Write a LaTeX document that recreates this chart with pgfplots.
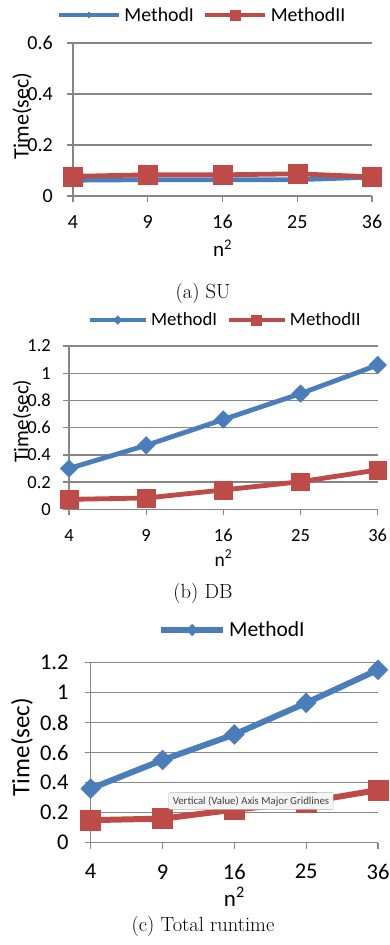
\documentclass[border=0pt]{standalone}
\usepackage{fontspec}
\usepackage{pgfplots}
\pgfplotsset{compat=1.18}
\newfontfamily\carlito{Carlito}
\newcommand{\fs}[1]{\fontsize{#1}{#1}\selectfont}
\definecolor{mblue}{RGB}{74,126,187}
\definecolor{mred}{RGB}{190,75,72}
\definecolor{gridgray}{RGB}{134,134,134}
\pgfplotsset{
  exc/.style={
    scale only axis,
    anchor=south west,
    clip=false,
    xmin=0, xmax=4,
    xtick={0,1,2,3,4},
    xticklabels={4,9,16,25,36},
    axis x line*=bottom, axis y line*=left,
    axis line style={gridgray, line width=1.3pt, -},
    every tick/.style={gridgray, line width=1.3pt},
    tick align=outside,
    major tick length=6pt,
    ymajorgrids,
    grid style={gridgray, line width=1.3pt},
    ymin=0,
    /pgf/number format/assume math mode=true,
    xticklabel style={anchor=center, inner sep=0pt},
    yticklabel style={anchor=east, inner sep=0pt},
    ylabel={Time(sec)},
    xlabel={n\textsuperscript{2}},
    legend style={draw=none, fill=none, legend columns=2, anchor=center,
      inner xsep=0pt, inner ysep=0pt,
      nodes={inner xsep=3pt, inner ysep=0pt},
      /tikz/every even column/.append style={column sep=6pt}},
  },
  lineI/.style={mblue, mark=square*, mark options={rotate=45, line width=0.5pt}},
  lineII/.style={mred, mark=square*, mark options={line width=0.5pt}},
  leg/.style n args={3}{legend image code/.code={\draw[mark repeat=2,mark phase=2,##1,mark size=#1] plot coordinates {(0pt,0pt) (#2,0pt) (#3,0pt)};}},
}
\begin{document}
\begin{tikzpicture}
\useasboundingbox (0,0) rectangle (390pt,945pt);
% (a) SU
\begin{axis}[exc,
  at={(73pt,749pt)}, width=299pt, height=153pt,
  ymax=0.6, ytick={0,0.2,0.4,0.6},
  ticklabel style={font=\carlito\fs{20}},
  yticklabel style={xshift=-14pt},
  xticklabel style={yshift=-20pt},
  ylabel style={at={(axis description cs:-0.17,0.523)}, anchor=center, font=\carlito\fs{22}},
  xlabel style={at={(axis description cs:0.5,-0.34)}, anchor=center, inner sep=0pt, font=\carlito\fs{21}},
  legend style={at={(axis description cs:0.433,1.183)}, font=\carlito\fs{19.8}},
]
\addplot[lineI, line width=4.8pt, mark size=2.2pt, leg={2.2pt}{30pt}{60pt}] coordinates {(0,0.062) (1,0.064) (2,0.064) (3,0.064) (4,0.074)};
\addplot[lineII, line width=4.8pt, mark size=9.5pt, leg={5pt}{30pt}{60pt}] coordinates {(0,0.077) (1,0.083) (2,0.083) (3,0.087) (4,0.075)};
\legend{MethodI,MethodII}
\end{axis}
% (b) DB
\begin{axis}[exc,
  at={(69pt,435.7pt)}, width=308.7pt, height=163.3pt,
  ymax=1.2, ytick={0,0.2,0.4,0.6,0.8,1,1.2},
  ticklabel style={font=\carlito\fs{18.5}},
  yticklabel style={xshift=-12pt},
  xticklabel style={yshift=-20pt},
  ylabel style={at={(axis description cs:-0.152,0.541)}, anchor=center, font=\carlito\fs{21}},
  xlabel style={at={(axis description cs:0.5,-0.298)}, anchor=center, inner sep=0pt, font=\carlito\fs{19.5}},
  legend style={at={(axis description cs:0.507,1.159)}, font=\carlito\fs{18.8}},
]
\addplot[lineI, line width=4.8pt, mark size=6.2pt, leg={3pt}{28pt}{56pt}] coordinates {(0,0.30) (1,0.47) (2,0.66) (3,0.85) (4,1.06)};
\addplot[lineII, line width=4.8pt, mark size=8.8pt, leg={5pt}{28pt}{56pt}] coordinates {(0,0.073) (1,0.083) (2,0.142) (3,0.203) (4,0.289)};
\legend{MethodI,MethodII}
\end{axis}
% (c) Total runtime
\begin{axis}[exc,
  at={(90.7pt,102.3pt)}, width=287.3pt, height=180.4pt,
  ymax=1.2, ytick={0,0.2,0.4,0.6,0.8,1,1.2},
  ticklabel style={font=\carlito\fs{22.5}},
  yticklabel style={xshift=-16pt},
  xticklabel style={yshift=-23pt},
  ylabel style={at={(axis description cs:-0.239,0.530)}, anchor=center, font=\carlito\fs{25}},
  xlabel style={at={(axis description cs:0.5,-0.30)}, anchor=center, inner sep=0pt, font=\carlito\fs{23}},
  legend style={at={(axis description cs:0.495,1.179)}, font=\carlito\fs{21.5}},
]
\addplot[lineI, line width=6pt, mark size=7pt, leg={4pt}{31pt}{62pt}] coordinates {(0,0.36) (1,0.55) (2,0.72) (3,0.93) (4,1.15)};
\addlegendentry{MethodI}
\addplot[lineII, line width=6pt, mark size=10pt, forget plot] coordinates {(0,0.15) (1,0.16) (2,0.22) (3,0.27) (4,0.35)};
\end{axis}
% tooltip
\node[fill=white!96!black, draw=gray!60, rounded corners=1pt, inner xsep=4pt, inner ysep=3.5pt,
      text=black!75, font=\carlito\fs{10.8}] at (251pt,144pt) {Vertical (Value) Axis Major Gridlines};
% captions
\node[font=\fs{20.5}] at (203pt,652pt) {(a) SU};
\node[font=\fs{20.5}] at (203pt,351.5pt) {(b) DB};
\node[font=\fs{20.5}] at (203pt,19pt) {(c) Total runtime};
\end{tikzpicture}
\end{document}
